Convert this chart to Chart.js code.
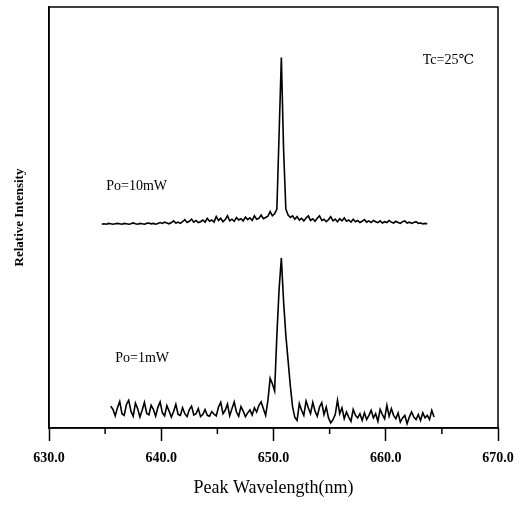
<!DOCTYPE html>
<html>
<head>
<meta charset="utf-8">
<script src="https://cdn.jsdelivr.net/npm/chart.js@4.4.1/dist/chart.umd.min.js"></script>
<style>
  html, body { margin: 0; padding: 0; background: #fff; }
  #wrap { width: 524px; height: 505px; }
</style>
</head>
<body>
<div id="wrap"><canvas id="myChart" width="524" height="505"></canvas></div>
<script>
// sampling grid of the two spectra (nm)
var upperStart = 634.7;
var lowerStart = 635.5;
var gridStep = 0.2;

// Po=10mW spectrum, relative intensity (offset upward)
var upperValues = [
    48.4,48.5,48.4,48.6,48.5,48.4,48.5,48.6,48.5,48.4,48.6,48.5,48.4,48.5,48.7,48.5,48.4,48.6,48.5,48.4,48.6,48.7,48.5,48.6,48.4,48.6,48.8,
    48.6,48.9,48.7,48.5,48.8,49.2,48.7,48.9,48.6,49.0,49.5,48.8,49.1,49.6,48.9,49.3,48.8,49.0,49.4,48.9,49.8,49.1,49.4,48.9,50.2,49.3,
    49.8,49.0,49.5,50.4,49.2,49.6,49.1,50.0,49.4,49.7,49.2,50.1,49.5,49.9,49.3,50.4,49.6,49.8,50.6,49.7,50.0,50.3,51.4,50.4,50.9,
    52.0,70.0,88.0,66.0,52.0,
    50.6,50.0,50.4,49.6,50.2,49.4,49.8,49.2,49.9,50.4,49.3,49.7,49.1,49.8,50.4,49.3,49.6,49.0,49.5,50.2,
    49.2,49.6,49.0,49.7,49.2,49.9,49.1,49.4,48.9,49.6,49.0,49.3,48.8,49.1,49.5,48.9,49.2,48.8,49.3,49.0,
    48.8,49.2,48.7,49.0,48.8,49.3,48.9,48.7,49.1,48.8,48.6,49.0,49.2,48.7,48.9,48.6,48.8,49.0,48.6,48.7,
    48.5,48.6,48.5
];

// Po=1mW spectrum, relative intensity
var lowerValues = [
    5.2,4.4,2.9,4.8,6.3,3.4,3.0,5.6,6.6,4.0,2.8,5.9,4.6,2.6,4.2,6.1,3.5,3.1,5.4,4.4,
    2.8,4.9,6.2,3.6,2.9,5.3,4.0,2.6,3.9,5.6,3.2,3.0,4.8,3.4,2.7,4.4,5.2,3.1,3.4,4.6,
    2.7,3.2,4.4,3.0,2.8,3.9,3.3,2.9,5.0,6.1,3.4,4.2,5.7,2.9,4.6,6.2,3.8,2.8,5.1,4.0,
    2.7,3.6,4.3,3.1,4.8,3.8,5.4,6.2,
    4.6,3.0,6.5,11.8,10.5,8.8,22.0,33.0,40.4,30.0,22.0,16.0,10.0,5.0,2.5,1.8,
    5.8,4.2,3.0,6.4,4.8,3.4,6.1,4.0,2.8,5.0,
    6.0,3.2,5.0,2.4,1.2,2.0,3.2,6.6,3.4,4.8,
    2.2,3.8,2.6,1.6,4.4,3.0,2.4,3.4,1.8,3.6,
    2.0,3.0,4.2,2.4,3.4,1.6,4.4,3.2,2.2,5.4,
    2.8,4.6,3.0,2.2,3.6,1.4,2.4,3.0,1.0,2.6,
    3.8,2.6,2.0,3.2,1.8,3.6,2.4,3.0,2.0,4.2,
    2.6
];

var majorTicks = [630, 640, 650, 660, 670];
var minorTicks = [635, 645, 655, 665];

// text labels placed in data units: [wavelength, intensity, text]
var notes = [
    [635.1, 57.5, 'Po=10mW'],
    [635.9, 16.6, 'Po=1mW'],
    [663.3, 87.4, 'Tc=25\u2103']
];

function toPoints(start, values) {
    var pts = [];
    for (var i = 0; i < values.length; i++) {
        pts.push({ x: +(start + i * gridStep).toFixed(2), y: values[i] });
    }
    return pts;
}

var serif = "'Liberation Serif', 'DejaVu Serif', serif";

var frameAndNotes = {
    id: 'frameAndNotes',
    afterDraw: function(chart) {
        var ctx = chart.ctx;
        var a = chart.chartArea;
        var xs = chart.scales.x;
        var ys = chart.scales.y;
        ctx.save();
        ctx.strokeStyle = '#000';
        ctx.lineWidth = 1.5;
        ctx.strokeRect(a.left, a.top, a.right - a.left, a.bottom - a.top);
        // minor ticks on the x axis
        minorTicks.forEach(function(v) {
            var px = xs.getPixelForValue(v);
            ctx.beginPath();
            ctx.moveTo(px, a.bottom);
            ctx.lineTo(px, a.bottom + 6);
            ctx.stroke();
        });
        ctx.fillStyle = '#000';
        ctx.font = '14px ' + serif;
        ctx.textBaseline = 'middle';
        ctx.textAlign = 'left';
        notes.forEach(function(n) {
            ctx.fillText(n[2], xs.getPixelForValue(n[0]), ys.getPixelForValue(n[1]));
        });
        ctx.restore();
    }
};

new Chart("myChart", {
    type: "scatter",
    data: {
        datasets: [{
            data: toPoints(upperStart, upperValues),
            showLine: true,
            borderColor: '#000',
            borderWidth: 1.6,
            pointRadius: 0,
            tension: 0
        }, {
            data: toPoints(lowerStart, lowerValues),
            showLine: true,
            borderColor: '#000',
            borderWidth: 1.6,
            pointRadius: 0,
            tension: 0
        }]
    },
    options: {
        responsive: false,
        animation: false,
        layout: { padding: { top: 7, right: 26, left: 0, bottom: 0 } },
        plugins: {
            legend: { display: false },
            tooltip: { enabled: false }
        },
        scales: {
            x: {
                type: 'linear',
                min: 630,
                max: 670,
                afterBuildTicks: function(scale) {
                    scale.ticks = majorTicks.map(function(v) { return { value: v }; });
                },
                afterFit: function(scale) { scale.height = 77; },
                border: { display: true, color: '#000', width: 1.5 },
                grid: {
                    drawOnChartArea: false,
                    drawTicks: true,
                    tickLength: 13,
                    tickColor: '#000',
                    tickWidth: 1.5
                },
                ticks: {
                    color: '#000',
                    padding: 9,
                    maxRotation: 0,
                    font: { family: serif, size: 14, weight: 'bold' },
                    callback: function(v) { return v.toFixed(1); }
                },
                title: {
                    display: true,
                    text: 'Peak Wavelength(nm)',
                    color: '#000',
                    font: { family: serif, size: 18 },
                    padding: { top: 4, bottom: 6 }
                }
            },
            y: {
                min: 0,
                max: 100,
                afterFit: function(scale) { scale.width = 49; },
                border: { display: true, color: '#000', width: 1.5 },
                grid: { display: false, drawTicks: false },
                ticks: { display: false },
                title: {
                    display: true,
                    text: 'Relative Intensity',
                    color: '#000',
                    font: { family: serif, size: 13, weight: 'bold' },
                    padding: { top: 12, bottom: 0 }
                }
            }
        }
    },
    plugins: [frameAndNotes]
});
</script>
</body>
</html>
